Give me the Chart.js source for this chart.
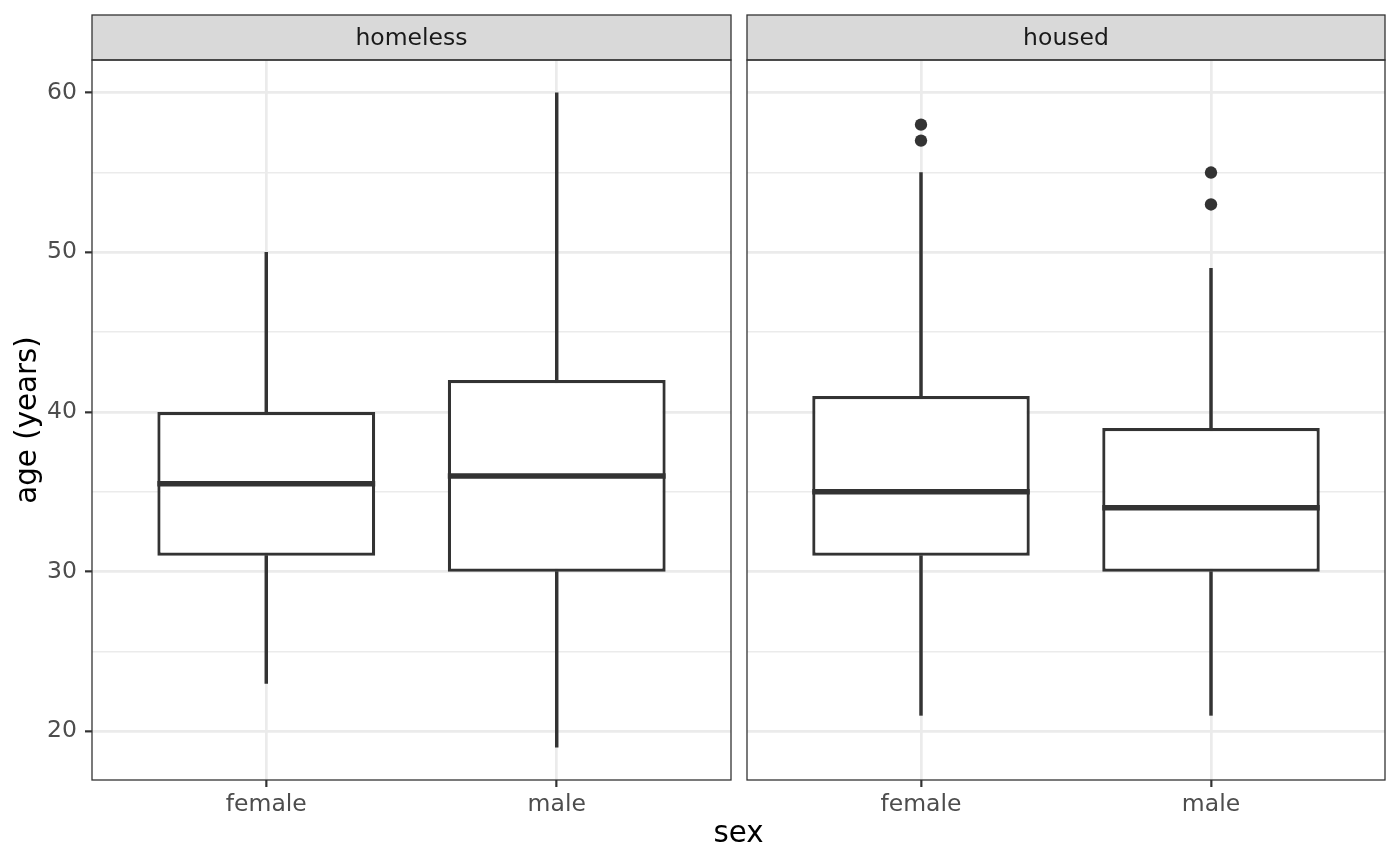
<!DOCTYPE html>
<html>
<head>
<meta charset="utf-8">
<title>age by sex</title>
<script src="https://cdn.jsdelivr.net/npm/chart.js@4.4.1/dist/chart.umd.min.js"></script>
<style>
  body { margin: 0; background: #ffffff; }
  #wrap { position: relative; width: 1400px; height: 865px; overflow: hidden; }
  #panel-homeless { position: absolute; left: 0; top: 0; }
  #panel-housed { position: absolute; left: 739px; top: 0; }
  #xtitle {
    position: absolute; left: 92px; width: 1293px; top: 818px;
    text-align: center; font-family: 'DejaVu Sans'; font-size: 29.3px;
    line-height: 1; color: #000000;
  }
</style>
</head>
<body>
<div id="wrap">
  <canvas id="panel-homeless" width="739" height="865"></canvas>
  <canvas id="panel-housed" width="661" height="865"></canvas>
  <div id="xtitle">sex</div>
</div>
<script>
// data, one row per facet, columns follow `sexes`
var facets = ['homeless', 'housed'];
var sexes = ['female', 'male'];
var whiskerLow  = [[23, 19], [21, 21]];
var lowerQuart  = [[31, 30], [31, 30]];
var medians     = [[35.5, 36], [35, 34]];
var upperQuart  = [[40, 42], [41, 39]];
var whiskerHigh = [[50, 60], [55, 49]];
var outliers    = [[[], []], [[57, 58], [53, 55]]];

var ageBreaks = [20, 30, 40, 50, 60];
var ageMinor  = [25, 35, 45, 55];

var ink = '#333333';
var gridCol = '#EBEBEB';
var boxWidth = 0.75;

Chart.defaults.font.family = 'DejaVu Sans';
Chart.defaults.font.size = 23.5;
Chart.defaults.color = '#4D4D4D';

// grey strip above the panel and the panel frame
var facetFrame = {
  id: 'facetFrame',
  afterDraw: function(chart, args, opts) {
    var a = chart.chartArea, c = chart.ctx;
    c.save();
    c.fillStyle = '#D9D9D9';
    c.fillRect(a.left, 15, a.right - a.left, a.top - 15);
    c.strokeStyle = ink;
    c.lineWidth = 1.3;
    c.strokeRect(a.left, 15, a.right - a.left, a.top - 15);
    c.strokeRect(a.left, a.top, a.right - a.left, a.bottom - a.top);
    c.fillStyle = '#1A1A1A';
    c.font = '23.5px "DejaVu Sans"';
    c.textAlign = 'center';
    c.textBaseline = 'middle';
    c.fillText(opts.label, (a.left + a.right) / 2, (15 + a.top) / 2 + 1);
    c.restore();
  }
};

function makePanel(canvasId, f) {
  var first = f === 0;
  var boxData = [], lowData = [], highData = [], medData = [], outData = [];
  sexes.forEach(function(s, i) {
    var x = i + 1;
    boxData.push({x: x, y: [lowerQuart[f][i], upperQuart[f][i]]});
    lowData.push({x: x, y: [whiskerLow[f][i], lowerQuart[f][i]]});
    highData.push({x: x, y: [upperQuart[f][i], whiskerHigh[f][i]]});
    medData.push({x: x - boxWidth / 2, y: medians[f][i]});
    medData.push({x: x + boxWidth / 2, y: medians[f][i]});
    medData.push({x: x + 0.5, y: null});
    outliers[f][i].forEach(function(v) { outData.push({x: x, y: v}); });
  });

  return new Chart(document.getElementById(canvasId), {
    type: 'bar',
    data: {
      datasets: [
        {
          type: 'line', data: medData, borderColor: ink, borderWidth: 5.5,
          borderCapStyle: 'butt', pointRadius: 0, spanGaps: false
        },
        {
          type: 'scatter', data: outData, backgroundColor: ink, borderWidth: 0,
          pointRadius: 6.2
        },
        {
          data: boxData, backgroundColor: '#FFFFFF', borderColor: ink, borderWidth: 3.2,
          borderSkipped: false, grouped: false, categoryPercentage: 1, barPercentage: boxWidth
        },
        {
          data: lowData, backgroundColor: ink, borderWidth: 0,
          grouped: false, barThickness: 2.8
        },
        {
          data: highData, backgroundColor: ink, borderWidth: 0,
          grouped: false, barThickness: 2.8
        }
      ]
    },
    options: {
      responsive: false,
      animation: false,
      layout: { padding: first ? {top: 60, right: 8, left: 0, bottom: 0} : {top: 60, right: 15, left: 8, bottom: 0} },
      plugins: {
        legend: { display: false },
        tooltip: { enabled: false },
        facetFrame: { label: facets[f] }
      },
      scales: {
        x: {
          type: 'linear', min: 0.4, max: 2.6, offset: false,
          afterBuildTicks: function(scale) {
            scale.ticks = sexes.map(function(s, i) { return {value: i + 1}; });
          },
          afterFit: function(scale) { scale.height = 85; },
          ticks: {
            autoSkip: false, padding: 4, color: '#4D4D4D',
            callback: function(v, i) { return sexes[i]; }
          },
          grid: { offset: false, color: gridCol, lineWidth: 2.7, tickColor: ink, tickWidth: 2.2, tickLength: 7 },
          border: { display: false }
        },
        y: {
          type: 'linear', min: 16.95, max: 62.05,
          afterBuildTicks: function(scale) {
            scale.ticks = ageBreaks.concat(ageMinor).sort(function(a, b) { return a - b; })
              .map(function(v) { return {value: v}; });
          },
          afterFit: function(scale) { scale.width = first ? 92 : 0; },
          title: {
            display: first, text: 'age (years)', color: '#000000',
            font: { size: 29.3 }, padding: { top: 11, bottom: 0 }
          },
          ticks: {
            display: first, autoSkip: false, padding: 8, color: '#4D4D4D',
            callback: function(v) { return ageBreaks.indexOf(v) >= 0 ? String(v) : ''; }
          },
          grid: {
            color: gridCol,
            lineWidth: function(ctx) { return ageBreaks.indexOf(ctx.tick.value) >= 0 ? 2.7 : 1.4; },
            drawTicks: first, tickLength: 7, tickWidth: 2.2,
            tickColor: function(ctx) { return ageBreaks.indexOf(ctx.tick.value) >= 0 ? ink : 'rgba(0,0,0,0)'; }
          },
          border: { display: false }
        }
      }
    },
    plugins: [facetFrame]
  });
}

makePanel('panel-homeless', 0);
makePanel('panel-housed', 1);
</script>
</body>
</html>
